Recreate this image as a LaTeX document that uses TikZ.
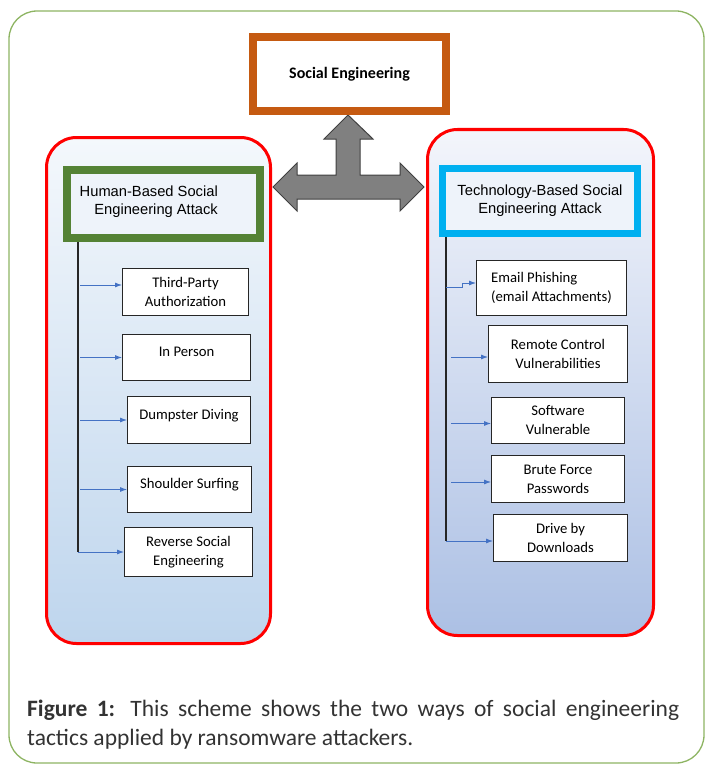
\documentclass[tikz,border=0pt]{standalone}
\usepackage{fontspec}
\setmainfont{Carlito}
\newfontfamily\arialfont{Liberation Sans}
\usetikzlibrary{arrows.meta}

\definecolor{framegreen}{RGB}{141,180,98}
\definecolor{seorange}{RGB}{197,90,17}
\definecolor{humangreen}{RGB}{84,130,53}
\definecolor{techblue}{RGB}{0,176,240}
\definecolor{linkblue}{RGB}{68,114,196}
\definecolor{capgray}{RGB}{51,51,51}
\definecolor{headfill}{RGB}{238,243,250}
\definecolor{lpaneltop}{RGB}{244,248,252}
\definecolor{lpanelbot}{RGB}{190,213,237}
\definecolor{rpaneltop}{RGB}{243,245,251}
\definecolor{rpanelbot}{RGB}{172,192,228}
\definecolor{tgray}{RGB}{128,128,128}

\newcommand\leaffont{\fontsize{14.7}{19}\selectfont}
\newcommand\headfont{\arialfont\fontsize{14.7}{18}\selectfont}
\newcommand\sefont{\fontsize{16}{19}\selectfont\bfseries}
\newcommand\capfont{\fontsize{23.5}{29}\selectfont}

\begin{document}
\begin{tikzpicture}[x=1pt,y=-1pt,
	panel/.style={draw=red,line width=3pt,rounded corners=30pt},
	headbox/.style={rectangle,fill=headfill,inner sep=0pt},
	leaf/.style={rectangle,draw=black!85,line width=1.4pt,fill=white,align=center,inner sep=0pt,font=\leaffont},
	oneline/.style={text height=11pt,text depth=13pt},
	feed/.style={draw=linkblue,line width=0.9pt,-{Latex[length=7pt,width=5pt]}},
	trunk/.style={draw=black!85,line width=1.2pt}]
	\useasboundingbox (0,0) rectangle (705,765);
	\draw[framegreen,line width=1.3pt,rounded corners=28pt] (9,11) rectangle (704,763);
	% the two panels
	\draw[panel,top color=lpaneltop,bottom color=lpanelbot] (46.5,137.5) rectangle (270.5,643.5);
	\draw[panel,top color=rpaneltop,bottom color=rpanelbot] (427.5,129.5) rectangle (653.5,635.5);
	% three-way arrow
	\draw[fill=tgray,draw=black!75,line width=1pt] (348,115) -- (373,139) -- (360,139) -- (360,175)
		-- (400,175) -- (400,163) -- (424,187) -- (400,211) -- (400,199) -- (297,199) -- (297,211)
		-- (273,187) -- (297,163) -- (297,175) -- (336,175) -- (336,139) -- (324,139) -- cycle;
	% headings
	\node[headbox,draw=seorange,line width=8pt,fill=white,minimum width=193pt,minimum height=74pt,font=\sefont] (se) at (349.5,74) {Social Engineering};
	\node[headbox,draw=humangreen,line width=8pt,minimum width=193pt,minimum height=68pt] (human) at (163.5,204) {};
	\node[font=\headfont,align=right,anchor=east,inner sep=0pt] (humanlbl) at (218,202) {Human-Based Social\\Engineering Attack};
	\node[headbox,draw=techblue,line width=7pt,minimum width=195pt,minimum height=65pt,font=\headfont,align=center] (tech) at (540,201) {Technology-Based Social\\Engineering Attack};
	% human-based tactics
	\node[leaf,minimum width=125.5pt,minimum height=46.5pt] (thirdparty) at (185.5,292) {Third-Party\\Authorization};
	\node[leaf,oneline,minimum width=127.5pt,minimum height=45.5pt] (inperson) at (186.5,357.5) {In Person};
	\node[leaf,oneline,minimum width=122.5pt,minimum height=46.5pt] (dumpster) at (189,420) {Dumpster Diving};
	\node[leaf,oneline,minimum width=123.5pt,minimum height=45.5pt] (shoulder) at (189.5,489.5) {Shoulder Surfing};
	\node[leaf,minimum width=127.5pt,minimum height=48.5pt] (reverse) at (188.5,552) {Reverse Social\\Engineering};
	% technology-based tactics
	\node[leaf,align=left,minimum width=149.5pt,minimum height=54.5pt] (email) at (551.5,288) {Email Phishing\\(email Attachments)};
	\node[leaf,minimum width=138.5pt,minimum height=56.5pt] (remote) at (558,354) {Remote Control\\Vulnerabilities};
	\node[leaf,minimum width=132.5pt,minimum height=45.5pt] (software) at (558,420.5) {Software\\Vulnerable};
	\node[leaf,minimum width=132.5pt,minimum height=46.5pt] (brute) at (558,479) {Brute Force\\Passwords};
	\node[leaf,minimum width=133.5pt,minimum height=46.5pt] (drive) at (560.5,538) {Drive by\\Downloads};
	% connectors, left
	\coordinate (lx) at (78,0);
	\coordinate (tptip) at ([yshift=7pt]thirdparty.west);
	\draw[trunk] (human.south -| lx) -- (reverse.west -| lx);
	\draw[feed,shorten <=2pt] (tptip -| lx) -- (tptip);
	\foreach \n in {inperson,dumpster,shoulder}
		\draw[feed,shorten <=2pt] (\n.west -| lx) -- (\n.west);
	\draw[feed] (reverse.west -| lx) -- (reverse.west);
	% connectors, right
	\coordinate (rx) at (446,0);
	\coordinate (emailtip) at ([yshift=5pt]email.west);
	\foreach \n in {remote,software,brute,drive}
		\coordinate (\n tip) at ([yshift=-3pt]\n.west);
	\draw[trunk] (tech.south -| rx) -- (drivetip -| rx);
	\draw[feed] (emailtip -| rx) ++(0,4) -- ++(16,0) |- (emailtip);
	\foreach \n in {remote,software,brute}
		\draw[feed,shorten <=5pt] (\n tip -| rx) -- (\n tip);
	\draw[feed] (drivetip -| rx) -- (drivetip);
	% caption
	\node[anchor=base west,inner sep=0pt,text width=652pt,align=justify,font=\capfont,text=capgray] (caption) at (27,716)
		{\textbf{Figure 1:} This scheme shows the two ways of social engineering\linebreak tactics applied by ransomware attackers.};
\end{tikzpicture}
\end{document}
